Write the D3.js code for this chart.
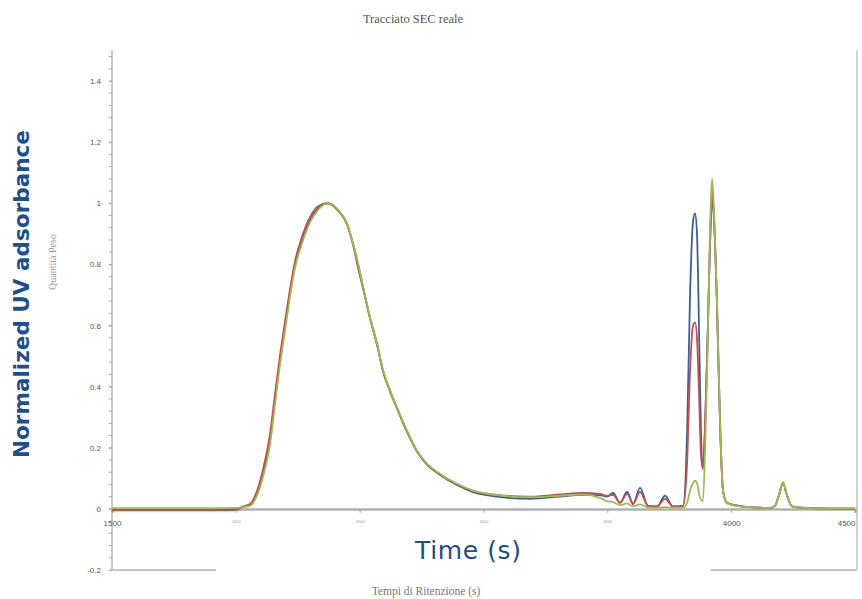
<!DOCTYPE html>
<html><head><meta charset="utf-8">
<script src="https://cdn.jsdelivr.net/npm/d3@7/dist/d3.min.js"></script>
<style>body{margin:0;background:#fff}svg{display:block}</style>
</head><body>
<svg id="c" width="862" height="599"></svg>
<script>
const times = [1500,1700,1900,2000,2029,2057,2086,2110,2138,2158,2178,2199,2219,2239,2267,2300,2332,2372,2413,2449,2473,2493,2514,2542,2570,2594,2623,2651,2691,2732,2772,2824,2893,2958,3055,3188,3309,3402,3470,3499,3523,3551,3580,3604,3632,3664,3701,3733,3765,3806,3822,3834,3846,3854,3862,3870,3878,3886,3895,3903,3911,3919,3923,3931,3943,3955,3967,3983,4036,4088,4157,4177,4193,4209,4225,4246,4300,4400,4500];

const blueValues = [-0.002,-0.002,-0.002,0.0,0.006,0.012,0.05,0.115,0.225,0.355,0.485,0.6,0.708,0.8,0.878,0.945,0.983,1.0,0.977,0.933,0.868,0.803,0.724,0.625,0.54,0.453,0.386,0.33,0.254,0.188,0.145,0.112,0.078,0.055,0.04,0.033,0.04,0.046,0.045,0.04,0.052,0.02,0.056,0.016,0.069,0.01,0.008,0.043,0.008,0.01,0.25,0.7,0.94,0.967,0.9,0.6,0.25,0.14,0.28,0.5,0.76,0.97,1.025,0.94,0.66,0.28,0.06,0.02,0.008,0.005,0.003,0.01,0.045,0.085,0.045,0.008,0.003,0.001,0.001];

const redValues = [-0.005,-0.005,-0.005,-0.004,0.008,0.016,0.06,0.13,0.245,0.375,0.5,0.615,0.72,0.81,0.89,0.955,0.99,1.0,0.975,0.93,0.865,0.79,0.72,0.622,0.537,0.45,0.383,0.328,0.252,0.188,0.146,0.113,0.08,0.058,0.046,0.04,0.047,0.052,0.049,0.043,0.046,0.02,0.049,0.016,0.056,0.01,0.008,0.033,0.008,0.01,0.15,0.45,0.6,0.61,0.56,0.38,0.18,0.13,0.28,0.5,0.76,0.98,1.04,0.95,0.66,0.28,0.06,0.02,0.01,0.005,0.003,0.01,0.045,0.085,0.045,0.008,0.003,0.001,0.001];

const greenValues = [0.002,0.002,0.002,0.003,0.006,0.01,0.045,0.105,0.21,0.34,0.47,0.585,0.695,0.788,0.868,0.938,0.978,1.0,0.978,0.934,0.869,0.805,0.725,0.626,0.541,0.455,0.387,0.331,0.256,0.19,0.148,0.115,0.082,0.06,0.045,0.038,0.043,0.047,0.036,0.025,0.022,0.012,0.018,0.008,0.015,0.005,0.004,0.006,0.004,0.004,0.02,0.06,0.085,0.092,0.085,0.05,0.03,0.026,0.2,0.45,0.78,1.03,1.08,0.97,0.67,0.29,0.06,0.018,0.008,0.005,0.003,0.01,0.045,0.088,0.045,0.008,0.003,0.001,0.001];

const seriesNames = ["blue","red","green"];
const seriesColors = ["#3a5f95","#c0504d","#9bbb59"];
const xTickValues = [1500,2000,2500,3000,3500,4000,4500];
const xTickLabels = ["1500","2000","2500","3000","3500","4000","4500"];
const yTickValues = [-0.2,0,0.2,0.4,0.6,0.8,1,1.2,1.4];
const yTickLabels = ["-0.2","0","0.2","0.4","0.6","0.8","1","1.2","1.4"];

const svg = d3.select("#c");
const x = d3.scaleLinear().domain([1500,4500]).range([112,855]);
const y = d3.scaleLinear().domain([-0.2,1.4]).range([570,81]);
const axisColor = "#a8a8a8";

// frame
svg.append("line").attr("x1",112).attr("x2",112).attr("y1",50).attr("y2",y(-0.2)).attr("stroke",axisColor).attr("stroke-width",1.2);
svg.append("line").attr("x1",857).attr("x2",857).attr("y1",50).attr("y2",y(-0.2)).attr("stroke","#c4c4c4").attr("stroke-width",1.5);
svg.append("line").attr("x1",112).attr("x2",857).attr("y1",y(-0.2)).attr("y2",y(-0.2)).attr("stroke","#c4c4c4").attr("stroke-width",2);

// y minor ticks
const minor = d3.range(-0.2, 1.49, 0.04);
svg.append("g").selectAll("line").data(minor).join("line")
  .attr("x1",109).attr("x2",112).attr("y1",d=>y(d)).attr("y2",d=>y(d))
  .attr("stroke",axisColor).attr("stroke-width",1);

// y axis labels
const yAxis = d3.axisLeft(y).tickValues(yTickValues).tickFormat((d,i)=>yTickLabels[i]).tickSize(3).tickPadding(8);
const yg = svg.append("g").attr("transform","translate(112,0)").call(yAxis);
yg.select(".domain").remove();
yg.selectAll("line").attr("stroke",axisColor);
yg.selectAll("text").attr("font-family","Liberation Sans, Arial").attr("font-size",8).attr("fill","#555");

// x axis at y=0
const xAxis = d3.axisBottom(x).tickValues(xTickValues).tickFormat((d,i)=>xTickLabels[i]).tickSize(4).tickPadding(7);
const xg = svg.append("g").attr("transform",`translate(0,${y(0)})`).call(xAxis);
xg.select(".domain").attr("stroke","#b0b0b0").attr("stroke-width",2.5);
xg.selectAll("line").attr("stroke",axisColor);
xg.selectAll("text").attr("font-family","Liberation Sans, Arial")
  .attr("font-size",(d)=> (d===1500||d>=4000)?8:4)
  .attr("fill",(d)=> (d===1500||d>=4000)?"#555":"#999")
  .attr("text-anchor",(d)=> d===4500?"end":"middle");

// lines
const line = d3.line().x((d,i)=>x(times[i])).y(d=>y(d)).curve(d3.curveMonotoneX);
const allSeries = [blueValues, redValues, greenValues];
svg.append("g").selectAll("path").data(allSeries).join("path")
  .attr("d",d=>line(d)).attr("fill","none")
  .attr("stroke",(d,i)=>seriesColors[i]).attr("stroke-width",1.8).attr("stroke-linejoin","round");

// titles
svg.append("text").attr("x",413).attr("y",23).attr("text-anchor","middle")
  .attr("font-family","Liberation Serif, Times New Roman").attr("font-size",12.5).attr("fill","#555").text("Tracciato SEC reale");
svg.append("text").attr("transform","translate(56,262) rotate(-90)").attr("text-anchor","middle")
  .attr("font-family","Liberation Serif, Times New Roman").attr("font-size",10).attr("fill","#999").text("Quantità Peso");
svg.append("text").attr("x",426).attr("y",595).attr("text-anchor","middle")
  .attr("font-family","Liberation Serif, Times New Roman").attr("font-size",11.5).attr("fill","#777").text("Tempi di Ritenzione (s)");

// overlaid labels
svg.append("rect").attr("x",216).attr("y",530).attr("width",495).attr("height",48).attr("fill","#fff");
svg.append("text").attr("x",415).attr("y",559)
  .attr("font-family","DejaVu Sans, Verdana").attr("font-size",25).attr("fill","#1f4e8c")
  .attr("textLength",106).attr("lengthAdjust","spacing").text("Time (s)");
svg.append("text").attr("transform","translate(29,294) rotate(-90)").attr("text-anchor","middle")
  .attr("font-family","DejaVu Sans, Verdana").attr("font-weight","bold").attr("font-size",21).attr("fill","#1f4e8c")
  .attr("textLength",328).attr("lengthAdjust","spacingAndGlyphs").text("Normalized UV adsorbance");
</script>
</body></html>
